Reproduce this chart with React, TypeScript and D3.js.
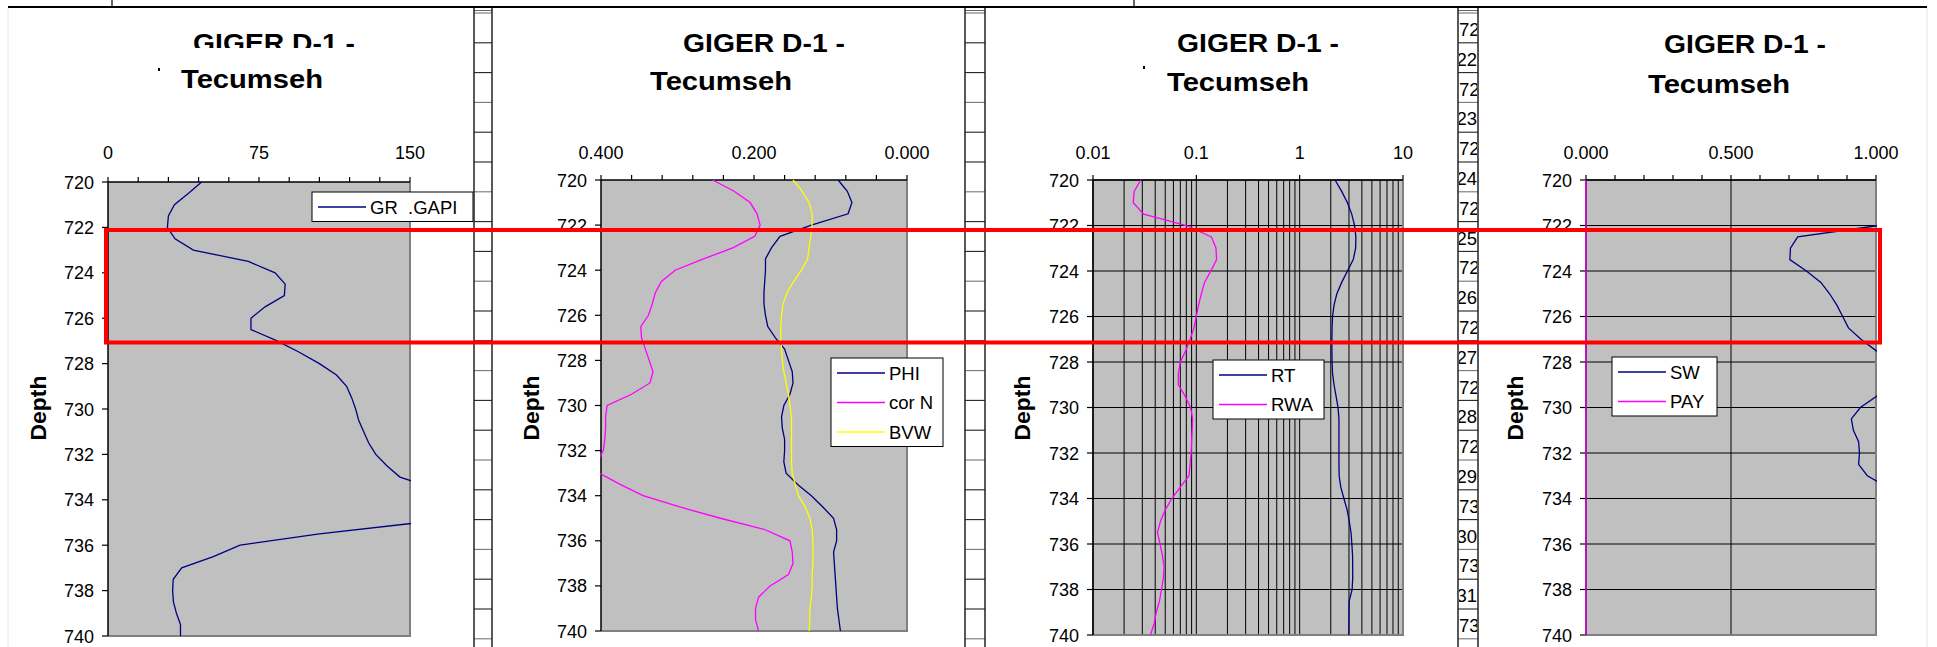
import * as d3 from "d3";

// depth samples, every half foot
const depths = [
  720, 720.5, 721, 721.5, 722, 722.5, 723, 723.5, 724, 724.5, 725, 725.5, 726, 726.5,
  727, 727.5, 728, 728.5, 729, 729.5, 730, 730.5, 731, 731.5, 732, 732.5, 733, 733.5,
  734, 734.5, 735, 735.5, 736, 736.5, 737, 737.5, 738, 738.5, 739, 739.5, 740,
];

const grValues = [
  46.5, 40, 33, 30, 29.5, 33.3, 42.4, 69.7, 83, 88, 87.6, 78, 71, 71,
  84, 95, 105, 113.5, 118.5, 121, 123, 124.5, 127, 129.5, 133, 138.5, 145, 162,
  178, 172, 155, 105, 65.6, 52.3, 36.6, 32.4, 32.1, 32.5, 34, 36, 36,
];
const phiValues = [
  0.09, 0.078, 0.072, 0.077, 0.125, 0.166, 0.177, 0.185, 0.185, 0.186, 0.187, 0.187, 0.185, 0.182,
  0.172, 0.16, 0.155, 0.15, 0.149, 0.153, 0.161, 0.164, 0.163, 0.16, 0.16, 0.161, 0.158, 0.143,
  0.125, 0.11, 0.096, 0.092, 0.092, 0.096, 0.095, 0.094, 0.093, 0.092, 0.091, 0.089, 0.087,
];
const corNValues = [
  0.254, 0.226, 0.205, 0.196, 0.192, 0.199, 0.227, 0.266, 0.303, 0.321, 0.329, 0.333, 0.338, 0.348,
  0.347, 0.342, 0.337, 0.332, 0.336, 0.36, 0.392, 0.394, 0.394, 0.395, 0.397, 0.405, 0.402, 0.375,
  0.345, 0.297, 0.244, 0.186, 0.153, 0.15, 0.149, 0.155, 0.179, 0.194, 0.198, 0.198, 0.194,
];
const bvwValues = [
  0.149, 0.137, 0.128, 0.124, 0.124, 0.126, 0.128, 0.13, 0.138, 0.148, 0.157, 0.162, 0.164, 0.165,
  0.165, 0.164, 0.163, 0.161, 0.158, 0.155, 0.153, 0.151, 0.151, 0.151, 0.151, 0.151, 0.15, 0.146,
  0.142, 0.133, 0.127, 0.124, 0.123, 0.123, 0.123, 0.124, 0.124, 0.125, 0.127, 0.127, 0.128,
];
const rtValues = [
  2.2, 2.55, 2.9, 3.19, 3.4, 3.5, 3.48, 3.3, 2.9, 2.55, 2.29, 2.15, 2.08, 2.06,
  2.05, 2.05, 2.06, 2.08, 2.15, 2.25, 2.35, 2.4, 2.4, 2.4, 2.4, 2.4, 2.41, 2.5,
  2.68, 2.88, 3.02, 3.14, 3.2, 3.25, 3.26, 3.26, 3.22, 3.02, 3.0, 3.0, 2.99,
];
const rwaValues = [
  0.029, 0.025, 0.0245, 0.031, 0.08, 0.14, 0.155, 0.157, 0.138, 0.12, 0.112, 0.105, 0.1, 0.095,
  0.087, 0.079, 0.07, 0.067, 0.067, 0.078, 0.088, 0.092, 0.091, 0.09, 0.089, 0.087, 0.085, 0.07,
  0.058, 0.05, 0.045, 0.042, 0.0445, 0.047, 0.0487, 0.048, 0.046, 0.044, 0.041, 0.039, 0.036,
];
const swValues = [
  1.2, 1.15, 1.12, 1.1, 1.01, 0.73, 0.705, 0.703, 0.76, 0.81, 0.84, 0.865, 0.885, 0.905,
  0.948, 1.0, 1.06, 1.1, 1.08, 1.003, 0.946, 0.915, 0.922, 0.94, 0.943, 0.94, 0.97, 1.04,
  1.1, 1.12, 1.15, 1.18, 1.2, 1.2, 1.2, 1.18, 1.15, 1.12, 1.1, 1.1, 1.1,
];
const payValues = [
  0, 0, 0, 0, 0, 0, 0, 0, 0, 0, 0, 0, 0, 0,
  0, 0, 0, 0, 0, 0, 0, 0, 0, 0, 0, 0, 0, 0,
  0, 0, 0, 0, 0, 0, 0, 0, 0, 0, 0, 0, 0,
];

const depthTicks = [720, 722, 724, 726, 728, 730, 732, 734, 736, 738, 740];
const grTicks = [0, 75, 150];
const porTicks = [0.4, 0.2, 0];
const resTicks = [0.01, 0.1, 1, 10];
const satTicks = [0, 0.5, 1];

const titleLines = ["GIGER D-1 -", "Tecumseh"];
// spreadsheet column peeking out between the 3rd and 4th charts
const sheetDepths = [722, 723, 724, 725, 726, 727, 728, 729, 730, 731, 732];

const NAVY = "#000080";
const MAGENTA = "#FF00FF";
const YELLOW = "#FFFF00";
const FONT = "'Liberation Sans', Arial, sans-serif";

type Series = { name: string; values: number[]; color: string };

type PanelCfg = {
  left: number;
  right: number;
  top: number;
  bottom: number;
  scale: any;
  ticks: number[];
  fmt: (v: number) => string;
  minor: number[];
  vGrid: number[];
  hGrid: boolean;
  series: Series[];
  legend: { x: number; y: number; w: number };
  title: { x1: number; x2: number; y1: number; y2: number; clip1?: number; dot?: [number, number] };
  depthX: number;
};

const panels: PanelCfg[] = [
  {
    left: 108, right: 410, top: 182, bottom: 636,
    scale: d3.scaleLinear().domain([0, 150]),
    ticks: grTicks, fmt: d3.format("d"),
    minor: d3.range(0, 150.01, 15),
    vGrid: [], hGrid: false,
    series: [{ name: "GR  .GAPI", values: grValues, color: NAVY }],
    legend: { x: 312, y: 192, w: 161 },
    title: { x1: 274, x2: 252, y1: 52, y2: 88, clip1: 48, dot: [158, 68] },
    depthX: 38,
  },
  {
    left: 601, right: 907, top: 180, bottom: 631,
    scale: d3.scaleLinear().domain([0.4, 0]),
    ticks: porTicks, fmt: d3.format(".3f"),
    minor: d3.range(0, 0.4001, 0.04),
    vGrid: [], hGrid: false,
    series: [
      { name: "PHI", values: phiValues, color: NAVY },
      { name: "cor N", values: corNValues, color: MAGENTA },
      { name: "BVW", values: bvwValues, color: YELLOW },
    ],
    legend: { x: 831, y: 358, w: 112 },
    title: { x1: 764, x2: 721, y1: 52, y2: 90 },
    depthX: 531,
  },
  {
    left: 1093, right: 1403, top: 180, bottom: 635,
    scale: d3.scaleLog().domain([0.01, 10]),
    ticks: resTicks, fmt: (v: number) => String(v),
    minor: [],
    vGrid: d3.scaleLog().domain([0.01, 10]).ticks(),
    hGrid: true,
    series: [
      { name: "RT", values: rtValues, color: NAVY },
      { name: "RWA", values: rwaValues, color: MAGENTA },
    ],
    legend: { x: 1213, y: 360, w: 111 },
    title: { x1: 1258, x2: 1238, y1: 52, y2: 91, dot: [1143, 66] },
    depthX: 1022,
  },
  {
    left: 1586, right: 1876, top: 180, bottom: 635,
    scale: d3.scaleLinear().domain([0, 1]),
    ticks: satTicks, fmt: d3.format(".3f"),
    minor: d3.range(0, 1.001, 0.1),
    vGrid: [0.5], hGrid: true,
    series: [
      { name: "SW", values: swValues, color: NAVY },
      { name: "PAY", values: payValues, color: MAGENTA },
    ],
    legend: { x: 1612, y: 357, w: 105 },
    title: { x1: 1745, x2: 1719, y1: 53, y2: 93 },
    depthX: 1515,
  },
];

const strips: [number, number][] = [
  [474, 492],
  [965, 985],
  [1458, 1478],
];
const ROW0 = 13;
const ROW_H = 29.8;

function Panel({ cfg, idx }: { cfg: PanelCfg; idx: number }) {
  const y = d3.scaleLinear().domain([720, 740]).range([cfg.top, cfg.bottom]);
  const x = cfg.scale.copy().range([cfg.left, cfg.right]);
  const w = cfg.right - cfg.left;
  const h = cfg.bottom - cfg.top;
  const mkLine = (vals: number[]) =>
    d3.line<number>()
      .x((v) => x(v))
      .y((_, i) => y(depths[i]))(vals) ?? undefined;
  const clipId = `plot-clip-${idx}`;
  const t = cfg.title;

  return (
    <g>
      <defs>
        <clipPath id={clipId}>
          <rect x={cfg.left - 1} y={cfg.top - 1} width={w + 2} height={h + 2} />
        </clipPath>
        {t.clip1 && (
          <clipPath id={`title-clip-${idx}`}>
            <rect x={0} y={0} width={1937} height={t.clip1} />
          </clipPath>
        )}
      </defs>

      {/* title */}
      <g fontFamily={FONT} fontWeight="bold" fontSize={25} fill="#000" textAnchor="middle">
        <text x={t.x1} y={t.y1} textLength={162} lengthAdjust="spacingAndGlyphs"
          clipPath={t.clip1 ? `url(#title-clip-${idx})` : undefined}>
          {titleLines[0]}
        </text>
        <text x={t.x2} y={t.y2} textLength={142} lengthAdjust="spacingAndGlyphs">{titleLines[1]}</text>
      </g>
      {t.dot && <rect x={t.dot[0]} y={t.dot[1]} width={2} height={3} fill="#000" />}

      {/* plot area */}
      <rect x={cfg.left} y={cfg.top} width={w} height={h} fill="#C0C0C0" />

      {cfg.vGrid.map((v, i) => (
        <line key={"vg" + i} x1={x(v)} x2={x(v)} y1={cfg.top} y2={cfg.bottom} stroke="#000" strokeWidth={1} />
      ))}
      {cfg.hGrid &&
        depthTicks.map((d) => (
          <line key={"hg" + d} x1={cfg.left} x2={cfg.right} y1={y(d)} y2={y(d)} stroke="#000" strokeWidth={1} />
        ))}

      {/* right / bottom frame */}
      <path
        d={`M${cfg.right},${cfg.top}V${cfg.bottom}H${cfg.left}`}
        fill="none" stroke="#808080" strokeWidth={2}
      />

      {/* axes */}
      <line x1={cfg.left} x2={cfg.right} y1={cfg.top} y2={cfg.top} stroke="#000" strokeWidth={1.5} />
      <line x1={cfg.left} x2={cfg.left} y1={cfg.top} y2={cfg.bottom} stroke="#000" strokeWidth={1.5} />
      {(cfg.minor.length ? cfg.minor : cfg.ticks).map((v, i) => (
        <line key={"xt" + i} x1={x(v)} x2={x(v)} y1={cfg.top - 5} y2={cfg.top} stroke="#000" strokeWidth={1.2} />
      ))}
      {depthTicks.map((d) => (
        <line key={"yt" + d} x1={cfg.left - 6} x2={cfg.left} y1={y(d)} y2={y(d)} stroke="#000" strokeWidth={1.2} />
      ))}

      <g fontFamily={FONT} fontSize={18} fill="#000">
        {cfg.ticks.map((v, i) => (
          <text key={"xl" + i} x={x(v)} y={159} textAnchor="middle">{cfg.fmt(v)}</text>
        ))}
        {depthTicks.map((d) => (
          <text key={"yl" + d} x={cfg.left - 14} y={y(d) + 6.5} textAnchor="end">{d}</text>
        ))}
      </g>

      <text
        transform={`translate(${cfg.depthX + 8},408) rotate(-90)`}
        fontFamily={FONT} fontWeight="bold" fontSize={22} textAnchor="middle"
        textLength={65} lengthAdjust="spacingAndGlyphs"
      >
        Depth
      </text>

      {/* series */}
      <g clipPath={`url(#${clipId})`}>
        {cfg.series.map((s) => (
          <path key={s.name} d={mkLine(s.values)} fill="none" stroke={s.color} strokeWidth={1.3} />
        ))}
      </g>

      {/* legend */}
      <g>
        <rect
          x={cfg.legend.x} y={cfg.legend.y} width={cfg.legend.w} height={cfg.series.length * 29.5}
          fill="#fff" stroke="#000" strokeWidth={1}
        />
        {cfg.series.map((s, i) => {
          const ly = cfg.legend.y + 15 + i * 29.5;
          return (
            <g key={s.name}>
              <line x1={cfg.legend.x + 6} x2={cfg.legend.x + 54} y1={ly} y2={ly} stroke={s.color} strokeWidth={1.3} />
              <text x={cfg.legend.x + 58} y={ly + 6.5} fontFamily={FONT} fontSize={18.5} style={{ whiteSpace: "pre" }}>
                {s.name}
              </text>
            </g>
          );
        })}
      </g>
    </g>
  );
}

function SheetStrip({ x0, x1, idx, labels }: { x0: number; x1: number; idx: number; labels?: number[] }) {
  const rows = d3.range(0, 22).map((k) => ROW0 + k * ROW_H);
  const id = `strip-clip-${idx}`;
  return (
    <g>
      <defs>
        <clipPath id={id}>
          <rect x={x0 + 1} y={ROW0} width={x1 - x0 - 2} height={647 - ROW0} />
        </clipPath>
      </defs>
      <rect x={x0} y={8} width={x1 - x0} height={639} fill="#fff" />
      {labels && (
        <g clipPath={`url(#${id})`} fontFamily={FONT} fontSize={18.5} fill="#000">
          {labels.map((d, i) => (
            <g key={d}>
              <text x={x0 + 1} y={ROW0 + 2 * i * ROW_H + 23}>{d}</text>
              <text x={x1 - 1} y={ROW0 + (2 * i + 1) * ROW_H + 23} textAnchor="end">{d}</text>
            </g>
          ))}
        </g>
      )}
      <line x1={x0} x2={x1} y1={10.5} y2={10.5} stroke="#666" strokeWidth={1} />
      {rows.map((ry, k) => (
        <line key={k} x1={x0} x2={x1} y1={ry} y2={ry} stroke={k % 3 === 0 ? "#777" : "#222"} strokeWidth={1.1} />
      ))}
      <line x1={x0} x2={x0} y1={8} y2={647} stroke="#222" strokeWidth={1.5} />
      <line x1={x1} x2={x1} y1={8} y2={647} stroke="#222" strokeWidth={1.5} />
    </g>
  );
}

export default function App() {
  return (
    <svg
      width={1937}
      height={647}
      viewBox="0 0 1937 647"
      style={{ position: "absolute", left: 0, top: 0, background: "#fff" }}
    >
      <rect x={0} y={0} width={1937} height={647} fill="#fff" />
      <line x1={8} x2={8} y1={7} y2={647} stroke="#e4e4e4" strokeWidth={1} />
      <line x1={1927} x2={1927} y1={7} y2={647} stroke="#e4e4e4" strokeWidth={1} />

      {panels.map((p, i) => (
        <Panel key={i} cfg={p} idx={i} />
      ))}

      {strips.map(([a, b], i) => (
        <SheetStrip key={i} x0={a} x1={b} idx={i} labels={i === 2 ? sheetDepths : undefined} />
      ))}

      {/* sheet border at the top */}
      <line x1={8} x2={1927} y1={7} y2={7} stroke="#000" strokeWidth={2} />
      <line x1={112} x2={112} y1={0} y2={7} stroke="#000" strokeWidth={1.2} />
      <line x1={1134} x2={1134} y1={0} y2={7} stroke="#000" strokeWidth={1.2} />

      {/* highlighted interval */}
      <rect x={106} y={230} width={1774} height={112.5} fill="none" stroke="#FF0000" strokeWidth={4} />
    </svg>
  );
}
